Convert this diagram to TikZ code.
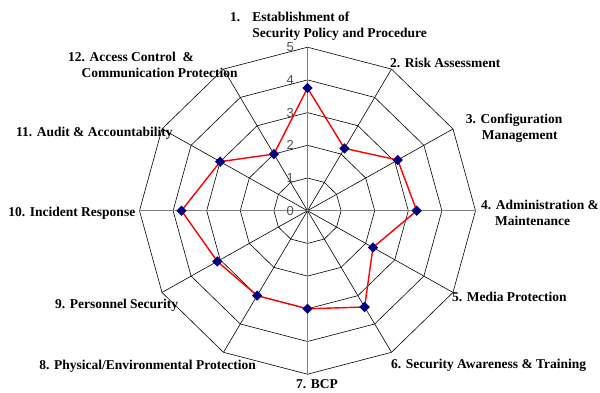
\documentclass[tikz,border=0pt]{standalone}
\usepackage{fontspec}
\setmainfont{Liberation Serif}
\newfontfamily\ticksans{Liberation Sans}
\usetikzlibrary{shapes.geometric}
\definecolor{markblue}{HTML}{000080}
\definecolor{axisgray}{HTML}{808080}
\definecolor{tickgray}{HTML}{505050}
\tikzset{
  gridline/.style={black, line width=0.6pt},
  axisline/.style={axisgray, line width=1.1pt},
  scoreline/.style={red, line width=1.4pt, line join=round},
  datapt/.style={diamond, fill=markblue, inner sep=0pt, minimum width=10.5pt, minimum height=10.5pt},
  cat/.style={font=\fontsize{13.5}{16}\selectfont\bfseries, inner sep=0pt, anchor=west, align=left},
  tick/.style={font=\fontsize{13}{15}\selectfont\ticksans, text=tickgray, inner sep=0pt, anchor=east}
}

\begin{document}
\begin{tikzpicture}[x=33.6pt, y=32.7pt]
			\useasboundingbox (-307.5pt,-181.3pt) rectangle (292.5pt,210.7pt);
			% rings and spokes
			\foreach \r in {1,...,5}
				\draw[gridline] (0:\r) \foreach \a in {30,60,...,330}{ -- (\a:\r)} -- cycle;
			\foreach \a in {30,60,120,150,210,240,300,330}
				\draw[gridline] (0,0) -- (\a:5);
			\draw[axisline] (180:5) -- (0:5);
			\draw[axisline] (270:5) -- (90:5);
			% scale on the vertical axis
			\foreach \k in {0,...,5}
				\node[tick] (t\k) at ([xshift=-13.5pt]0,\k) {\k};
			% scores, clockwise from the top
			\foreach \v [count=\i] in {3.75,2.2,3.1,3.25,2.25,3.4,3,3,3.1,3.75,3,2}
				\coordinate (p\i) at ({90-30*(\i-1)}:\v);
			\draw[scoreline] (p1) \foreach \i in {2,...,12}{ -- (p\i)} -- cycle;
			\foreach \i in {1,...,12}
				\node[datapt] (m\i) at (p\i) {};
			% category labels
			\node[cat] (c1) at (-77.5pt,184.2pt) {\begin{tabular}{@{}l@{\hspace{12pt}}l@{}}1. & Establishment of\\ & Security Policy and Procedure\end{tabular}};
			\node[cat] (c2) at (82.5pt,147.4pt) {2. Risk Assessment};
			\node[cat] (c3) at (158.2pt,82.7pt) {3. Configuration\\\hspace*{16pt}Management};
			\node[cat] (c4) at (173.5pt,-1.8pt) {4. Administration \&\\\hspace*{14pt}Maintenance};
			\node[cat] (c5) at (144.5pt,-86.6pt) {5. Media Protection};
			\node[cat] (c6) at (83.5pt,-154.3pt) {6. Security Awareness \& Training};
			\node[cat] (c7) at (-11.5pt,-173.8pt) {7. BCP};
			\node[cat] (c8) at (-268.2pt,-155.3pt) {8. Physical/Environmental Protection};
			\node[cat] (c9) at (-252.5pt,-95pt) {9. Personnel Security};
			\node[cat] (c10) at (-299.2pt,-2.6pt) {10. Incident Response};
			\node[cat] (c11) at (-291.5pt,77.4pt) {11. Audit \& Accountability};
			\node[cat] (c12) at (-239.5pt,146.2pt) {12. Access Control\ \ \&\\\hspace*{13.4pt}Communication Protection};
		\end{tikzpicture}
\end{document}
